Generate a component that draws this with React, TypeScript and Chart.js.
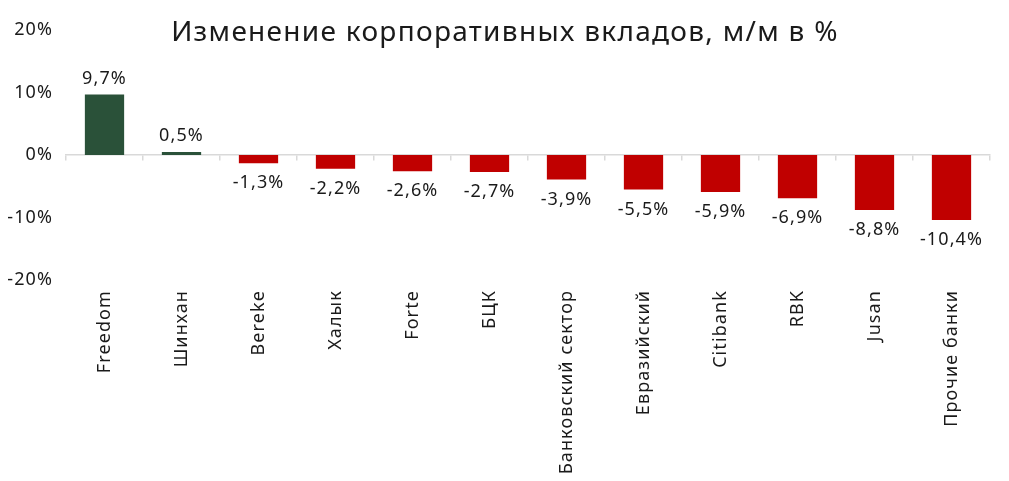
import React, { useEffect, useRef } from "react";
import { Chart, registerables } from "chart.js";

Chart.register(...registerables);

const title = "Изменение корпоративных вкладов, м/м в %";
const categories = [
  "Freedom",
  "Шинхан",
  "Bereke",
  "Халык",
  "Forte",
  "БЦК",
  "Банковский сектор",
  "Евразийский",
  "Citibank",
  "RBK",
  "Jusan",
  "Прочие банки",
];
const values = [9.7, 0.5, -1.3, -2.2, -2.6, -2.7, -3.9, -5.5, -5.9, -6.9, -8.8, -10.4];
const yTicks = [-20, -10, 0, 10, 20];

const GREEN = "#2a5139";
const RED = "#c00000";
const TEXT = "#1a1a1a";
const FONT = "'Noto Sans', sans-serif";
const SPACING = "1.1px";

const fmt = (v: number) => v.toFixed(1).replace(".", ",") + "%";

export default function App() {
  const ref = useRef<HTMLCanvasElement | null>(null);
  useEffect(() => {
    if (!ref.current) return;
    const labelPlugin = {
      id: "labels",
      beforeLayout(chart: any) {
        (chart.ctx as any).letterSpacing = SPACING;
      },
      beforeDraw(chart: any) {
        (chart.ctx as any).letterSpacing = SPACING;
      },
      afterDatasetsDraw(chart: any) {
        const ctx = chart.ctx;
        const meta = chart.getDatasetMeta(0);
        ctx.save();
        ctx.font = `18px ${FONT}`;
        ctx.fillStyle = TEXT;
        ctx.textAlign = "center";
        meta.data.forEach((bar: any, i: number) => {
          const v = values[i];
          if (v >= 0) {
            ctx.textBaseline = "bottom";
            ctx.fillText(fmt(v), bar.x, bar.y - 7);
          } else {
            ctx.textBaseline = "top";
            ctx.fillText(fmt(v), bar.x, bar.y + 11);
          }
        });
        ctx.restore();
      },
      afterDraw(chart: any) {
        const ctx = chart.ctx;
        ctx.save();
        (ctx as any).letterSpacing = "1.3px";
        ctx.font = `28px ${FONT}`;
        ctx.fillStyle = TEXT;
        ctx.textAlign = "center";
        ctx.textBaseline = "middle";
        ctx.fillText(title, 505, 33);
        ctx.restore();
      },
    };
    const chart = new Chart(ref.current, {
      type: "bar",
      data: {
        labels: categories,
        datasets: [
          {
            data: values,
            backgroundColor: values.map((v) => (v >= 0 ? GREEN : RED)),
            barPercentage: 0.51,
            categoryPercentage: 1,
          },
        ],
      },
      plugins: [labelPlugin],
      options: {
        animation: false,
        responsive: false,
        maintainAspectRatio: false,
        layout: { padding: { top: 30, right: 19, left: 0, bottom: 0 } },
        plugins: { legend: { display: false }, tooltip: { enabled: false }, title: { display: false } },
        scales: {
          x: {
            type: "category",
            position: "bottom",
            grid: { display: false, drawTicks: false },
            border: { display: false },
            ticks: {
              minRotation: 90,
              maxRotation: 90,
              autoSkip: false,
              padding: 10,
              color: TEXT,
              font: { family: FONT, size: 18 },
            },
            afterFit: (s: any) => {
              s.height = 201;
            },
          },
          x2: {
            type: "category",
            labels: categories,
            position: { y: 0 },
            offset: true,
            grid: {
              offset: true,
              drawOnChartArea: false,
              drawTicks: true,
              tickLength: 5,
              color: "#d9d9d9",
              lineWidth: 1.5,
            },
            border: { display: true, color: "#d9d9d9", width: 1.5 },
            ticks: { display: false },
          },
          y: {
            min: -20,
            max: 20,
            afterBuildTicks: (s: any) => {
              s.ticks = yTicks.map((v) => ({ value: v }));
            },
            grid: { display: false, drawTicks: false },
            border: { display: false },
            ticks: {
              padding: 13,
              color: TEXT,
              font: { family: FONT, size: 18 },
              callback: (v: any) => `${v}%`,
            },
            afterFit: (s: any) => {
              s.width = 66;
            },
          },
        },
      } as any,
    });
    return () => chart.destroy();
  }, []);
  return (
    <div style={{ position: "fixed", left: 0, top: 0, width: 1009, height: 481, background: "#fff" }}>
      <canvas ref={ref} width={1009} height={481} style={{ width: 1009, height: 481 }} />
    </div>
  );
}
